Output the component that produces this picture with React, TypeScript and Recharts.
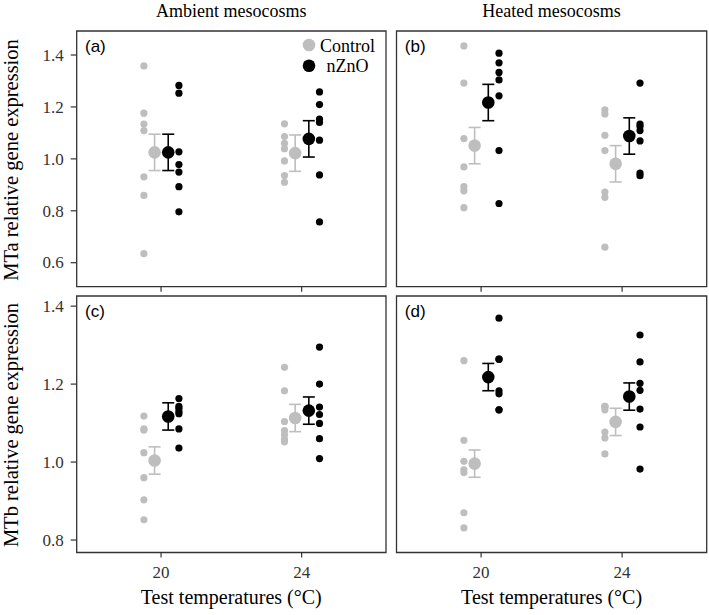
import { ErrorBar, ReferenceArea, Scatter, ScatterChart, XAxis, YAxis } from "recharts";

const temps = ["20", "24"];

// MTa, ambient mesocosms (a)
const aCtrl20 = [1.358, 1.176, 1.134, 1.109, 0.931, 0.859, 0.635];
const aCtrl24 = [1.135, 1.086, 1.06, 1.039, 0.992, 0.936, 0.91];
const aNzno20 = [1.283, 1.253, 1.027, 0.978, 0.949, 0.893, 0.796];
const aNzno24 = [1.258, 1.209, 1.153, 1.14, 1.072, 0.938, 0.757];
const aCtrlMean = [1.025, 1.022];
const aNznoMean = [1.025, 1.077];

// MTa, heated mesocosms (b)
const bCtrl20 = [1.435, 1.292, 1.078, 0.969, 0.893, 0.877, 0.812];
const bCtrl24 = [1.189, 1.173, 1.091, 1.032, 0.872, 0.852, 0.66];
const bNzno20 = [1.407, 1.37, 1.333, 1.304, 1.243, 1.032, 0.828];
const bNzno24 = [1.292, 1.134, 1.125, 1.109, 1.069, 0.945, 0.935];
const bCtrlMean = [1.051, 0.981];
const bNznoMean = [1.217, 1.088];

// MTb, ambient mesocosms (c)
const cCtrl20 = [1.118, 1.085, 1.082, 1.024, 0.96, 0.903, 0.852];
const cCtrl24 = [1.243, 1.183, 1.104, 1.081, 1.07, 1.058, 1.052];
const cNzno20 = [1.163, 1.143, 1.138, 1.13, 1.124, 1.085, 1.036];
const cNzno24 = [1.295, 1.2, 1.141, 1.122, 1.099, 1.06, 1.009];
const cCtrlMean = [1.004, 1.113];
const cNznoMean = [1.117, 1.132];

// MTb, heated mesocosms (d)
const dCtrl20 = [1.26, 1.056, 1.002, 0.98, 0.973, 0.87, 0.831];
const dCtrl24 = [1.143, 1.143, 1.141, 1.134, 1.077, 1.062, 1.021];
const dNzno20 = [1.369, 1.264, 1.264, 1.183, 1.175, 1.134, 1.134];
const dNzno24 = [1.326, 1.257, 1.202, 1.184, 1.136, 1.09, 0.982];
const dCtrlMean = [0.996, 1.103];
const dNznoMean = [1.218, 1.168];

const seMTa = 0.07;
const seMTb = 0.035;

const mtaTicks = [0.6, 0.8, 1.0, 1.2, 1.4];
const mtbTicks = [0.8, 1.0, 1.2, 1.4];

const GREY = "#bebebe";
const BLACK = "#000000";
const BORDER = "#333333";
const SERIF = "'Liberation Serif', 'Times New Roman', serif";
const SANS = "'Liberation Sans', Arial, sans-serif";

// dodge offsets (in category units) like position_dodge
const RAW_CTRL = -0.122;
const RAW_NZNO = 0.127;
const MEAN_CTRL = -0.046;
const MEAN_NZNO = 0.051;

function raw(v20: number[], v24: number[], off: number) {
  return [
    ...v20.map((y) => ({ x: 1 + off, y })),
    ...v24.map((y) => ({ x: 2 + off, y })),
  ];
}

function means(m: number[], se: number, off: number) {
  return m.map((y, i) => ({ x: i + 1 + off, y, e: se }));
}

const dot = (r: number, fill: string) => (p: any) =>
  <circle cx={p.cx} cy={p.cy} r={r} fill={fill} />;

const tickStyle = { fontFamily: SERIF, fontSize: 17 };

const XTick = (show: boolean) => (p: any) =>
  show ? (
    <text x={p.x} y={p.y} dy="0.71em" textAnchor="middle" fill="#333" style={tickStyle}>
      {temps[p.payload.value - 1]}
    </text>
  ) : (
    <g />
  );

const YTick = (p: any) => (
  <text x={p.x} y={p.y} dy="0.34em" textAnchor="end" fill="#333" style={tickStyle}>
    {Number(p.payload.value).toFixed(1)}
  </text>
);

interface PanelProps {
  left: number;
  top: number;
  width: number;
  height: number;
  margin: { top: number; right: number; bottom: number; left: number };
  yDomain: [number, number];
  yTicks: number[];
  showY: boolean;
  showXLabels: boolean;
  xAxisHeight: number;
  ctrl20: number[];
  ctrl24: number[];
  nzno20: number[];
  nzno24: number[];
  ctrlMean: number[];
  nznoMean: number[];
  se: number;
}

function Panel(p: PanelProps) {
  return (
    <div style={{ position: "absolute", left: p.left, top: p.top, fontFamily: SERIF }}>
      <ScatterChart width={p.width} height={p.height} margin={p.margin} style={{ fontFamily: SERIF }}>
        <XAxis
          type="number"
          dataKey="x"
          domain={[0.4, 2.6]}
          allowDataOverflow
          ticks={[1, 2]}
          height={p.xAxisHeight}
          axisLine={false}
          tickSize={5}
          tickMargin={8}
          tickLine={{ stroke: BORDER, strokeWidth: 1.2 }}
          tick={XTick(p.showXLabels)}
        />
        <YAxis
          type="number"
          dataKey="y"
          domain={p.yDomain}
          allowDataOverflow
          ticks={p.yTicks}
          hide={!p.showY}
          width={76.7}
          axisLine={false}
          tickSize={6}
          tickMargin={7}
          tickLine={{ stroke: BORDER, strokeWidth: 1.2 }}
          tick={YTick}
        />
        <ReferenceArea
          x1={0.4}
          x2={2.6}
          y1={p.yDomain[0]}
          y2={p.yDomain[1]}
          fill="none"
          stroke={BORDER}
          strokeWidth={1.3}
          ifOverflow="visible"
        />
        <Scatter data={raw(p.ctrl20, p.ctrl24, RAW_CTRL)} shape={dot(3.6, GREY)} isAnimationActive={false} />
        <Scatter data={raw(p.nzno20, p.nzno24, RAW_NZNO)} shape={dot(3.6, BLACK)} isAnimationActive={false} />
        <Scatter data={means(p.ctrlMean, p.se, MEAN_CTRL)} shape={dot(6.3, GREY)} isAnimationActive={false}>
          <ErrorBar dataKey="e" direction="y" width={6} stroke={GREY} strokeWidth={1.6} />
        </Scatter>
        <Scatter data={means(p.nznoMean, p.se, MEAN_NZNO)} shape={dot(6.3, BLACK)} isAnimationActive={false}>
          <ErrorBar dataKey="e" direction="y" width={6} stroke={BLACK} strokeWidth={1.6} />
        </Scatter>
      </ScatterChart>
    </div>
  );
}

const mtaDomain: [number, number] = [0.5076, 1.4925];
const mtbDomain: [number, number] = [0.768, 1.426];

export default function App() {
  const topBox = { top: 22, height: 273 };
  const topMargin = (l: number, r: number) => ({ top: 9, right: r, bottom: 2.3, left: l });
  const botBox = { top: 292, height: 298 };
  const botMargin = (l: number, r: number) => ({ top: 4, right: r, bottom: 7.5, left: l });

  return (
    <div style={{ position: "absolute", left: 0, top: 0, width: 709, height: 615, background: "#fff" }}>
      <Panel
        left={0} top={topBox.top} width={391} height={topBox.height} margin={topMargin(0, 5)}
        yDomain={mtaDomain} yTicks={mtaTicks} showY showXLabels={false} xAxisHeight={6}
        ctrl20={aCtrl20} ctrl24={aCtrl24} nzno20={aNzno20} nzno24={aNzno24}
        ctrlMean={aCtrlMean} nznoMean={aNznoMean} se={seMTa}
      />
      <Panel
        left={391} top={topBox.top} width={318} height={topBox.height} margin={topMargin(5.5, 2.3)}
        yDomain={mtaDomain} yTicks={mtaTicks} showY={false} showXLabels={false} xAxisHeight={6}
        ctrl20={bCtrl20} ctrl24={bCtrl24} nzno20={bNzno20} nzno24={bNzno24}
        ctrlMean={bCtrlMean} nznoMean={bNznoMean} se={seMTa}
      />
      <Panel
        left={0} top={botBox.top} width={391} height={botBox.height} margin={botMargin(0, 5)}
        yDomain={mtbDomain} yTicks={mtbTicks} showY showXLabels xAxisHeight={30}
        ctrl20={cCtrl20} ctrl24={cCtrl24} nzno20={cNzno20} nzno24={cNzno24}
        ctrlMean={cCtrlMean} nznoMean={cNznoMean} se={seMTb}
      />
      <Panel
        left={391} top={botBox.top} width={318} height={botBox.height} margin={botMargin(5.5, 2.3)}
        yDomain={mtbDomain} yTicks={mtbTicks} showY={false} showXLabels xAxisHeight={30}
        ctrl20={dCtrl20} ctrl24={dCtrl24} nzno20={dNzno20} nzno24={dNzno24}
        ctrlMean={dCtrlMean} nznoMean={dNznoMean} se={seMTb}
      />

      {/* facet strips, axis titles, panel tags, legend */}
      <svg
        width={709}
        height={615}
        style={{ position: "absolute", left: 0, top: 0, pointerEvents: "none" }}
      >
        <g fontFamily={SERIF} fill="#000">
          <text x={231.3} y={16.5} fontSize={18} textAnchor="middle">Ambient mesocosms</text>
          <text x={551.6} y={16.5} fontSize={18} textAnchor="middle">Heated mesocosms</text>
          <text x={231.3} y={604} fontSize={20} textAnchor="middle">Test temperatures (°C)</text>
          <text x={551.6} y={604} fontSize={20} textAnchor="middle">Test temperatures (°C)</text>
          <text transform="translate(18,160) rotate(-90)" fontSize={20.5} textAnchor="middle">
            MTa relative gene expression
          </text>
          <text transform="translate(18,425) rotate(-90)" fontSize={20.5} textAnchor="middle">
            MTb relative gene expression
          </text>
          <text x={347.5} y={51.7} fontSize={18} textAnchor="middle">Control</text>
          <text x={347.5} y={71.5} fontSize={18} textAnchor="middle">nZnO</text>
        </g>
        <circle cx={309} cy={45} r={6.3} fill={GREY} />
        <circle cx={309} cy={65.8} r={6.3} fill={BLACK} />
        <g fontFamily={SANS} fill="#000" fontSize={17}>
          <text x={85} y={52.4}>(a)</text>
          <text x={404.8} y={52.4}>(b)</text>
          <text x={85} y={317.4}>(c)</text>
          <text x={404.8} y={317.4}>(d)</text>
        </g>
      </svg>
    </div>
  );
}
